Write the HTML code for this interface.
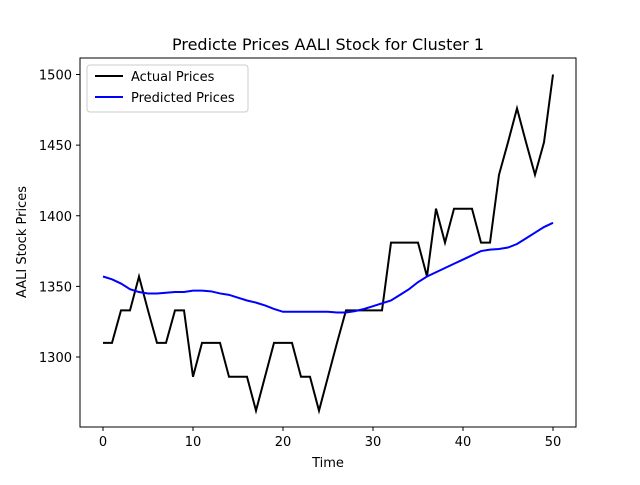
<!DOCTYPE html>
<html><head><meta charset="utf-8"><style>
body{margin:0;background:#fff}
text{font-family:"DejaVu Sans","Liberation Sans",sans-serif}
</style></head><body>
<svg id="chart" width="640" height="480" xmlns="http://www.w3.org/2000/svg">
<rect x="0" y="0" width="640" height="480" fill="#fff"/>
<text x="328" y="50" font-size="16" text-anchor="middle">Predicte Prices AALI Stock for Cluster 1</text>
<g id="axes"></g>
<g id="series"></g>
<rect x="80" y="58" width="496" height="369" fill="none" stroke="#000" stroke-width="1"/>
<text x="328" y="467" font-size="13" text-anchor="middle">Time</text>
<text x="0" y="0" font-size="13" text-anchor="middle" transform="translate(26,242) rotate(-90)">AALI Stock Prices</text>
<g>
<rect x="87" y="65" width="161" height="47" rx="3" fill="#fff" stroke="#ccc"/>
<line x1="95" y1="76" x2="123" y2="76" stroke="#000" stroke-width="2"/>
<text x="131" y="81" font-size="13">Actual Prices</text>
<line x1="95" y1="97" x2="123" y2="97" stroke="#0000ff" stroke-width="2"/>
<text x="131" y="102" font-size="13">Predicted Prices</text>
</g>
</svg>
<script>
const actual=[1310,1310,1333,1333,1357,1333,1310,1310,1333,1333,1286,1310,1310,1310,1286,1286,1286,1262,1286,1310,1310,1310,1286,1286,1262,1286,1310,1333,1333,1333,1333,1333,1381,1381,1381,1381,1357,1405,1381,1405,1405,1405,1381,1381,1429,1452,1476,1452,1429,1452,1500];
const predicted=[1357,1355,1352,1348,1346,1345,1345,1345.5,1346,1346,1347,1347,1346.5,1345,1344,1342,1340,1338.5,1336.5,1334,1332,1332,1332,1332,1332,1332,1331.5,1331.5,1332.5,1334,1336,1338,1340,1344,1348,1353,1357,1360,1363,1366,1369,1372,1375,1376,1376.5,1377.5,1380,1384,1388,1392,1395];
const xTicks=[0,10,20,30,40,50];
const yTicks=[1300,1350,1400,1450,1500];
const ns="http://www.w3.org/2000/svg";
function xs(v){return 103+v*9;}
function ys(v){return 357-(v-1300)*1.4125;}
const axes=document.getElementById('axes');
xTicks.forEach(t=>{
  const l=document.createElementNS(ns,'line');
  l.setAttribute('x1',xs(t));l.setAttribute('x2',xs(t));l.setAttribute('y1',427);l.setAttribute('y2',431);l.setAttribute('stroke','#000');
  
  
  axes.appendChild(l);
  const tx=document.createElementNS(ns,'text');
  tx.setAttribute('x',xs(t));tx.setAttribute('y',446);tx.setAttribute('font-size','13');tx.setAttribute('text-anchor','middle');
  tx.textContent=t;
  
  
  axes.appendChild(tx);
});
yTicks.forEach(t=>{
  const l=document.createElementNS(ns,'line');
  l.setAttribute('x1',76);l.setAttribute('x2',80);l.setAttribute('y1',ys(t));l.setAttribute('y2',ys(t));l.setAttribute('stroke','#000');
  
  
  axes.appendChild(l);
  const tx=document.createElementNS(ns,'text');
  tx.setAttribute('x',72);tx.setAttribute('y',ys(t)+5);tx.setAttribute('font-size','13');tx.setAttribute('text-anchor','end');
  tx.textContent=t;
  
  
  axes.appendChild(tx);
});
const series=document.getElementById('series');
function addLine(arr,color,name){
  const p=document.createElementNS(ns,'polyline');
  p.setAttribute('points',arr.map((v,i)=>xs(i)+','+ys(v)).join(' '));
  p.setAttribute('fill','none');p.setAttribute('stroke',color);p.setAttribute('stroke-width','2');
  
  
  series.appendChild(p);
}
addLine(actual,'#000','actual-prices-line');
addLine(predicted,'#0000ff','predicted-prices-line');
</script>
</body></html>
